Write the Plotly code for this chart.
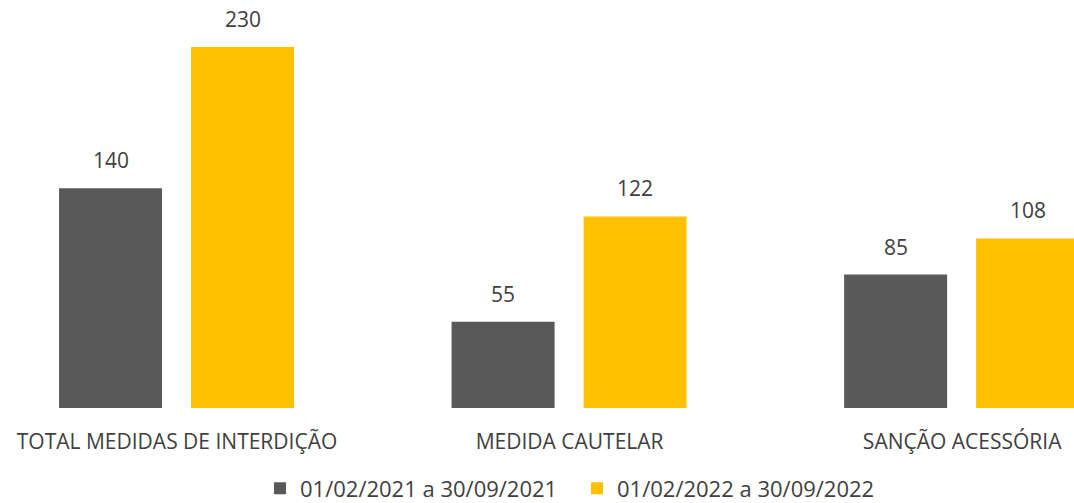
import plotly.graph_objects as go

categories = ["TOTAL MEDIDAS DE INTERDIÇÃO", "MEDIDA CAUTELAR", "SANÇÃO ACESSÓRIA"]
series_names = ["01/02/2021 a 30/09/2021", "01/02/2022 a 30/09/2022"]
values_2021 = [140, 55, 85]
values_2022 = [230, 122, 108]
colors = ["#595959", "#FFC000"]
text_color = "#404040"
font_family = "Open Sans"

bar_width = 0.2624
offsets = [-0.3006, 0.0357]

fig = go.Figure()
for name, vals, col, off in zip(series_names, [values_2021, values_2022], colors, offsets):
    fig.add_trace(go.Bar(x=categories, y=vals, name=name, width=bar_width, offset=off,
                         marker=dict(color=col, line=dict(width=0))))

# data labels
annotations = []
for vals, off in zip([values_2021, values_2022], offsets):
    shift = (off + bar_width / 2) * 392.5
    for c, v in zip(categories, vals):
        annotations.append(dict(x=c, y=v, text=str(v), showarrow=False, xshift=shift,
                                yanchor="bottom", yshift=12,
                                font=dict(family=font_family, size=21, color=text_color)))

fig.update_layout(
    width=1074, height=503,
    margin=dict(l=0, r=0, t=16, b=95, autoexpand=False),
    paper_bgcolor="white", plot_bgcolor="white",
    barmode="overlay",
    annotations=annotations,
    font=dict(family=font_family, size=21, color=text_color),
    showlegend=True,
    legend=dict(orientation="h", x=260 / 1074, xanchor="left", yref="paper", y=-0.205, yanchor="middle",
                font=dict(family=font_family, size=22, color=text_color),
                itemwidth=30, entrywidth=272, entrywidthmode="pixels",
                traceorder="normal", tracegroupgap=0,
                bgcolor="rgba(0,0,0,0)"),
    xaxis=dict(range=[-0.451, 2.285], showgrid=False, zeroline=False, showline=False,
               automargin=False,
               ticks="outside", ticklen=0, ticklabelstandoff=15,
               tickfont=dict(family=font_family, size=21, color=text_color)),
    yaxis=dict(range=[0, 249.7], visible=False, showgrid=False, zeroline=False),
)

fig.write_html("out.html")
